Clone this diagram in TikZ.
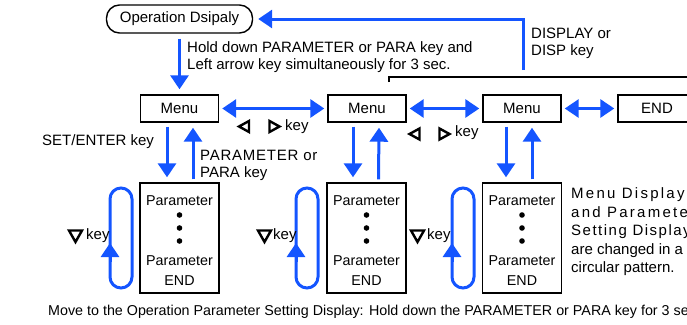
\documentclass[tikz,border=0pt]{standalone}
\usepackage{fontspec}
\setmainfont{Liberation Sans}
\usetikzlibrary{arrows.meta}
\definecolor{kblue}{RGB}{20,85,255}
\begin{document}
\begin{tikzpicture}[x=1pt,y=-1pt,
  every node/.style={font=\fontsize{15}{17}\selectfont, inner sep=0pt},
  menubox/.style={draw, line width=1.4pt, minimum width=78pt, minimum height=27pt},
  parbox/.style={draw, line width=1.4pt, minimum width=79pt, minimum height=110pt},
  ptxt/.style={font=\fontsize{14.3}{17}\selectfont},
  arr/.style={draw=kblue, line width=3pt, -{Triangle[width=18pt,length=14pt]}},
  darr/.style={draw=kblue, line width=3pt, {Triangle[width=18pt,length=14pt]}-{Triangle[width=18pt,length=14pt]}},
  loopline/.style={draw=kblue, line width=3pt, rounded corners=11pt},
  tri/.style={draw, line width=2.4pt, line join=miter},
  lbl/.style={anchor=base west, align=left}
]
\useasboundingbox (0,0) rectangle (687,324);
\clip (0,0) rectangle (687,324);

% nodes
\node[draw, line width=1.4pt, rounded corners=13pt, minimum width=146pt, minimum height=28pt] (op) at (179.5,19) {Operation Dsipaly};
\node[menubox] (m1) at (179.5,108.5) {Menu};
\node[menubox] (m2) at (367,108.5) {Menu};
\node[menubox] (m3) at (522,108.5) {Menu};
\node[menubox] (end) at (657,108.5) {END};
\node[parbox] (p1) at (179.5,238) {};
\node[parbox] (p2) at (366.5,238) {};
\node[parbox] (p3) at (522,238) {};

% parameter box contents
\foreach \p in {p1,p2,p3}{
  \node[ptxt] at ([yshift=37pt]\p.center) {Parameter};
  \fill ([yshift=23pt]\p.center) circle (2.8pt);
  \fill ([yshift=10pt]\p.center) circle (2.8pt);
  \fill ([yshift=-3pt]\p.center) circle (2.8pt);
  \node[ptxt] at ([yshift=-23pt]\p.center) {Parameter};
  \node[ptxt] at ([yshift=-43pt]\p.center) {END};
}

% connectors
\draw[arr] ([yshift=-5pt]op.south -| m1.north) -- ([yshift=5pt]m1.north);
\coordinate (dsp) at (523,70);
\draw[arr] (dsp) |- ([xshift=5pt]op.east);
\coordinate (bl1) at (389,82);
\coordinate (bl2) at (695,77);
\draw[line width=1.2pt] (bl1) |- (bl2);

\draw[darr] ([xshift=3pt]m1.east) -- ([xshift=-3pt]m2.west);
\draw[darr] ([xshift=3pt]m2.east) -- ([xshift=-3pt]m3.west);
\draw[darr] ([xshift=3pt]m3.east) -- ([xshift=-3pt]end.west);

\draw[arr] ([xshift=-12.5pt,yshift=-4pt]m1.south) -- ([xshift=-12.5pt,yshift=5pt]p1.north);
\draw[arr] ([xshift=13.5pt,yshift=3pt]p1.north) -- ([xshift=13.5pt,yshift=-5pt]m1.south);
\draw[arr] ([xshift=-14pt,yshift=-4pt]m2.south) -- ([xshift=-13.5pt,yshift=5pt]p2.north);
\draw[arr] ([xshift=12pt,yshift=3pt]p2.north) -- ([xshift=12pt,yshift=-5pt]m2.south);
\draw[arr] ([xshift=-16pt,yshift=-4pt]m3.south) -- ([xshift=-16pt,yshift=5pt]p3.north);
\draw[arr] ([xshift=10pt,yshift=3pt]p3.north) -- ([xshift=10pt,yshift=-5pt]m3.south);

% loops
\draw[loopline] (110,188) rectangle (132,288);
\draw[arr] (110,262) -- (110,243);
\draw[loopline] (296,188) rectangle (318,288);
\draw[arr] (296,262) -- (296,243);
\draw[loopline] (452,188) rectangle (474,288);
\draw[arr] (452,262) -- (452,243);

% key symbols
\draw[tri] (249,121) -- (239,126.5) -- (249,132) -- cycle;
\draw[tri] (269.5,121) -- (279.5,126.5) -- (269.5,132) -- cycle;
\draw[tri] (419.5,128.5) -- (409.5,134) -- (419.5,139.5) -- cycle;
\draw[tri] (439.5,128.5) -- (449.5,134) -- (439.5,139.5) -- cycle;
\draw[tri] (69,230.5) -- (82,230.5) -- (75.5,242) -- cycle;
\draw[tri] (258,230.5) -- (271,230.5) -- (264.5,242) -- cycle;
\draw[tri] (411,230.5) -- (424,230.5) -- (417.5,242) -- cycle;

% labels
\node[lbl] (t1) at (187,69.5) {Hold down PARAMETER or PARA key and\\Left arrow key simultaneously for 3 sec.};
\node[lbl] (t2) at (531,55.5) {DISPLAY or\\DISP key};
\node[anchor=west] (t3) at (42,142) {SET/ENTER key};
\node[lbl] (t4) at (200,177.5) {\addfontfeature{LetterSpace=5}PARAMETER or\\PARA key};

\node[anchor=west] (k1) at (285,127) {key};
\node[anchor=west] (k2) at (455,133) {key};
\node[anchor=west] (k3) at (86,236) {key};
\node[anchor=west] (k4) at (273,236) {key};
\node[anchor=west] (k5) at (427,236) {key};

\node[lbl, font=\fontsize{15}{18.6}\selectfont] (t5) at (571,272.9) {\addfontfeature{LetterSpace=15}Menu Display\\\addfontfeature{LetterSpace=15}and Parameter\\\addfontfeature{LetterSpace=10}Setting Display\\are changed in a\\circular pattern.};

\node[anchor=west, font=\fontsize{14.3}{17}\selectfont] (t6) at (48,312) {Move to the Operation Parameter Setting Display: Hold down the PARAMETER or PARA key for 3 sec.};
\end{tikzpicture}
\end{document}
